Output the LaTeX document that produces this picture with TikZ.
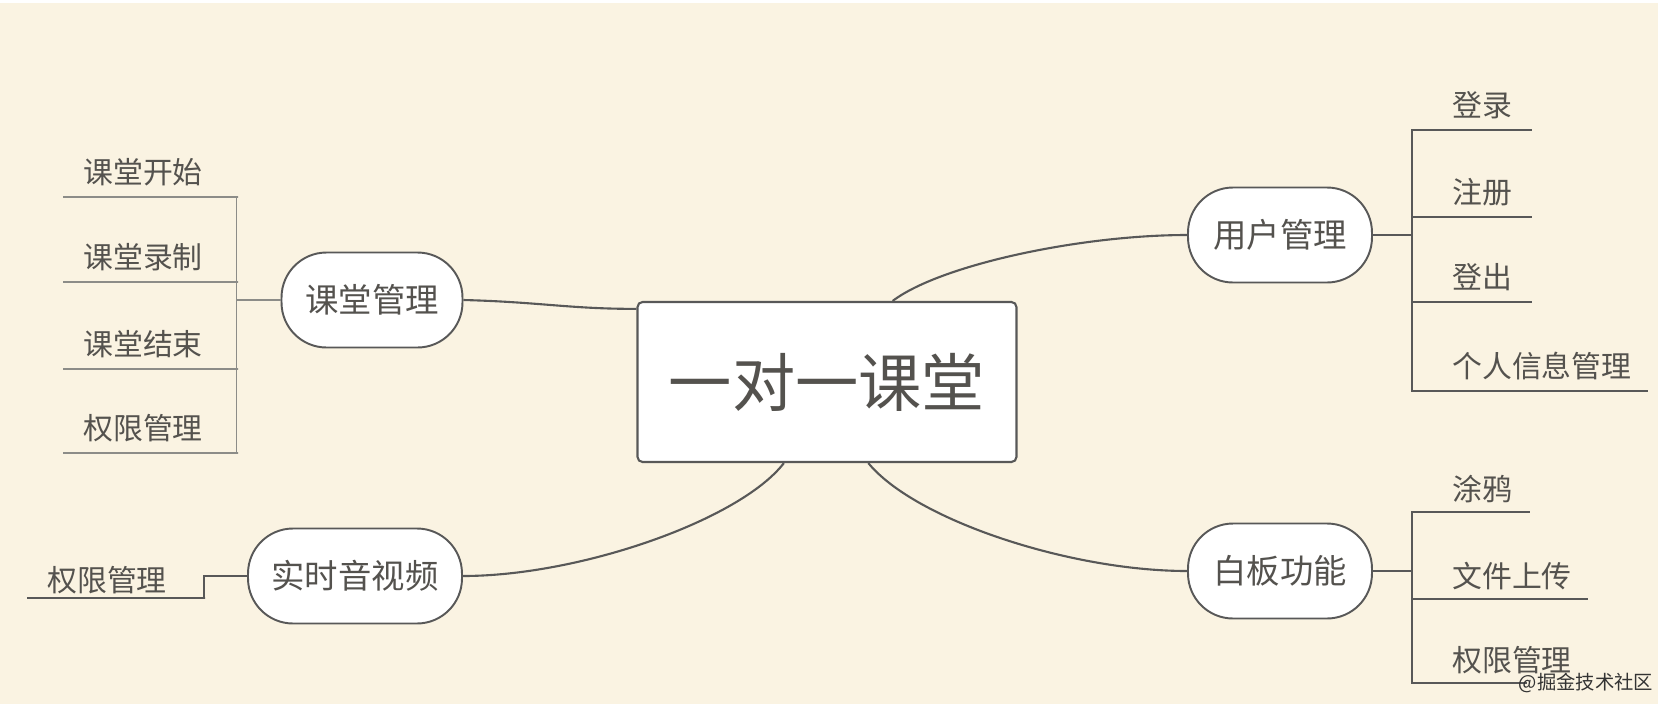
\documentclass[tikz,border=0pt]{standalone}
\usepackage{fontspec}
\setmainfont{Noto Sans CJK SC}
\definecolor{paper}{RGB}{250,243,226}
\definecolor{ink}{RGB}{84,82,78}
\definecolor{wire}{RGB}{88,88,88}
\definecolor{thinwire}{RGB}{140,140,136}
\tikzset{
  >=latex,
}
\tikzstyle{root}=[draw=wire,line width=1.2pt,fill=white,rounded corners=1mm,
  minimum width=7.58cm,minimum height=3.2cm,text=ink,
  font=\fontsize{36}{40}\selectfont]
\tikzstyle{topic}=[draw=wire,line width=1.1pt,fill=white,rounded corners=0.9cm,
  minimum height=1.9cm,text=ink,font=\fontsize{19}{22}\selectfont]
\tikzstyle{leaf}=[anchor=west,inner sep=0pt,text=ink,font=\fontsize{17}{20}\selectfont]
\tikzstyle{link}=[wire,line width=1.2pt]
\tikzstyle{branch}=[wire,line width=1.1pt]
\tikzstyle{lightbranch}=[thinwire,line width=0.8pt]

\begin{document}
\begin{tikzpicture}[x=0.02cm,y=-0.02cm]
    \fill[paper] (0,0) rectangle (1658,704);
    \fill[white] (0,0) rectangle (1658,3);
    \useasboundingbox (0,0) rectangle (1658,704);

    \node[root] (main) at (827,382) {一对一课堂};
    \node[topic,minimum width=3.62cm] (course) at (372,300) {课堂管理};
    \node[topic,minimum width=4.28cm] (av) at (355,576) {实时音视频};
    \node[topic,minimum width=3.68cm] (user) at (1280,235) {用户管理};
    \node[topic,minimum width=3.68cm] (board) at (1280,571) {白板功能};

    % main links
    \draw[link] (main.159) .. controls (570,309) and (540,302) .. (course.east);
    \draw[link] (main.51) .. controls (940,265) and (1080,235) .. (user.west);
    \draw[link] (main.242) .. controls (740,520) and (580,576) .. (av.east);
    \draw[link] (main.297) .. controls (915,520) and (1070,571) .. (board.west);

    % course
    \foreach \t/\y [count=\i] in {课堂开始/197,课堂录制/282,课堂结束/369,权限管理/453} {
      \coordinate (c\i r) at (238,\y);
      \coordinate (c\i l) at (63,\y);
      \node[leaf] (c\i) at (83,\y-25) {\t};
      \draw[lightbranch] (course.west) -- ++(-44,0) |- (c\i r) -- (c\i l);
    }

    % av
    \coordinate (a1r) at (205,598);
    \coordinate (a1l) at (27,598);
    \node[leaf] (a1) at (47,580) {权限管理};
    \draw[branch] (av.west) -- ++(-43,0) |- (a1r) -- (a1l);

    % user
    \foreach \t/\y/\e [count=\i] in {登录/130/1532,注册/217/1532,登出/302/1532,个人信息管理/391/1648} {
      \coordinate (u\i l) at (1411,\y);
      \coordinate (u\i r) at (\e,\y);
      \node[leaf] (u\i) at (1452,\y-25) {\t};
      \draw[branch] (user.east) -- ++(39,0) |- (u\i l) -- (u\i r);
    }

    % board
    \foreach \t/\y/\e [count=\i] in {涂鸦/512/1530,文件上传/599/1588,权限管理/683/1527} {
      \coordinate (b\i l) at (1411,\y);
      \coordinate (b\i r) at (\e,\y);
      \node[leaf] (b\i) at (1452,\y-23) {\t};
      \draw[branch] (board.east) -- ++(39,0) |- (b\i l) -- (b\i r);
    }

    \node[text=black!80,inner sep=0pt,font=\fontsize{11}{13}\selectfont] (mark) at (1586,683) {@掘金技术社区};
\end{tikzpicture}
\end{document}
